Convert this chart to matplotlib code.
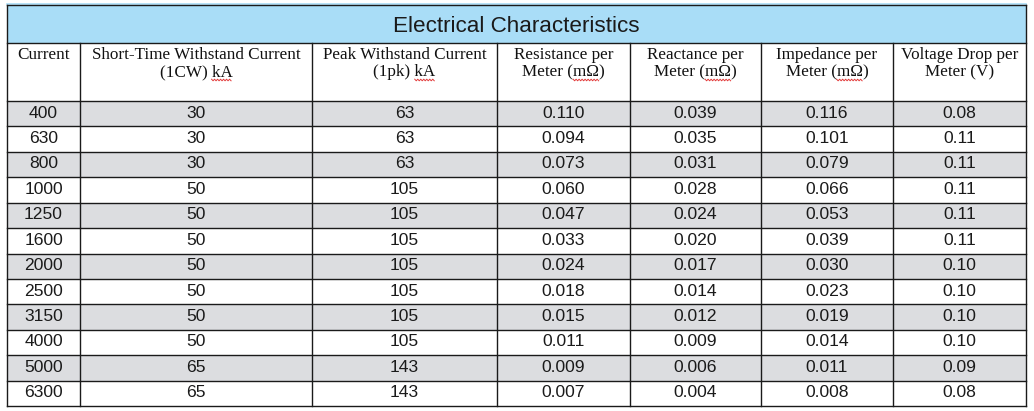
import numpy as np
import matplotlib.pyplot as plt
from matplotlib.patches import Rectangle

# Table content
title = 'Electrical Characteristics'
# Two-line headers: (first line, second line, unit flagged by spell-check)
header_top = ['Current', 'Short-Time Withstand Current', 'Peak Withstand Current',
              'Resistance per', 'Reactance per', 'Impedance per',
              'Voltage Drop per']
header_bottom_line = ['', '(1CW) kA', '(1pk) kA', 'Meter (m\u03a9)',
                      'Meter (m\u03a9)', 'Meter (m\u03a9)', 'Meter (V)']
flagged_units = ['', 'kA', 'kA', 'm\u03a9', 'm\u03a9', 'm\u03a9', '']

current = ['400', '630', '800', '1000', '1250', '1600', '2000', '2500',
           '3150', '4000', '5000', '6300']
short_time = ['30', '30', '30', '50', '50', '50', '50', '50', '50', '50',
              '65', '65']
peak = ['63', '63', '63', '105', '105', '105', '105', '105', '105', '105',
        '143', '143']
resistance = ['0.110', '0.094', '0.073', '0.060', '0.047', '0.033', '0.024',
              '0.018', '0.015', '0.011', '0.009', '0.007']
reactance = ['0.039', '0.035', '0.031', '0.028', '0.024', '0.020', '0.017',
             '0.014', '0.012', '0.009', '0.006', '0.004']
impedance = ['0.116', '0.101', '0.079', '0.066', '0.053', '0.039', '0.030',
             '0.023', '0.019', '0.014', '0.011', '0.008']
voltage_drop = ['0.08', '0.11', '0.11', '0.11', '0.11', '0.11', '0.10',
                '0.10', '0.10', '0.10', '0.09', '0.08']

columns = [current, short_time, peak, resistance, reactance, impedance,
           voltage_drop]

# Layout in pixels
col_edges = [7, 80, 312, 497, 630, 761, 893, 1026]
title_top, title_bottom = 5, 43
header_bottom = 101
table_bottom = 406
row_h = (table_bottom - header_bottom) / len(current)

blue = '#a9ddf7'
gray = '#dcdde0'
edge = '#1a1a1a'
text_col = '#1a1a1a'
head_font = dict(fontsize=12.3, family='Liberation Serif', color='#111111')

fig = plt.figure(figsize=(10.34, 4.11), dpi=100)
ax = fig.add_axes([0, 0, 1, 1])
ax.set_xlim(0, 1034)
ax.set_ylim(411, 0)
ax.axis('off')
renderer = fig.canvas.get_renderer()

left, right = col_edges[0], col_edges[-1]


def text_width(s):
    """Width of a string in data (pixel) units with the header font"""
    t = ax.text(0, 0, s, **head_font)
    w = t.get_window_extent(renderer).width
    t.remove()
    return w


# Title bar
ax.add_patch(Rectangle((left, title_top), right - left, title_bottom - title_top,
                       facecolor=blue, edgecolor='none'))
ax.plot([left, right], [title_top - 1, title_top - 1], color=blue, lw=1.2)
ax.text((left + right) / 2, 32, title, ha='center', va='baseline',
        fontsize=16.2, family='Liberation Sans', color=text_col)

# Shaded rows
for i in range(len(current)):
    if i % 2 == 0:
        y0 = header_bottom + i * row_h
        ax.add_patch(Rectangle((left, y0), right - left, row_h,
                               facecolor=gray, edgecolor='none'))

# Header text, with the red spell-check squiggle under flagged units
for j in range(len(header_top)):
    cx = (col_edges[j] + col_edges[j + 1]) / 2
    ax.text(cx, 59, header_top[j], ha='center', va='baseline', **head_font)
    line2 = header_bottom_line[j]
    if line2:
        ax.text(cx, 76, line2, ha='center', va='baseline', **head_font)
    unit = flagged_units[j]
    if unit:
        full_w = text_width(line2)
        end = line2.index(unit) + len(unit)
        x1 = cx - full_w / 2 + text_width(line2[:end])
        x0 = x1 - text_width(unit)
        xs = np.arange(x0, x1 + 0.01, 1.5)
        ys = 80 + np.where(np.arange(len(xs)) % 2 == 0, -0.8, 0.8)
        ax.plot(xs, ys, color='#e23b3b', lw=0.7)

# Cell values
for j, col in enumerate(columns):
    cx = (col_edges[j] + col_edges[j + 1]) / 2
    for i, v in enumerate(col):
        base = header_bottom + i * row_h + 0.655 * row_h
        ax.text(cx, base, v, ha='center', va='baseline', fontsize=12.6,
                family='Liberation Sans', color=text_col)

# Grid lines
lw = 1.0
ax.plot([left, right], [title_top, title_top], color=edge, lw=lw)
ax.plot([left, right], [title_bottom, title_bottom], color=edge, lw=lw)
for i in range(len(current) + 1):
    y = header_bottom + i * row_h
    ax.plot([left, right], [y, y], color=edge, lw=lw)
ax.plot([left, left], [title_top, table_bottom], color=edge, lw=lw)
ax.plot([right, right], [title_top, table_bottom], color=edge, lw=lw)
for x in col_edges[1:-1]:
    ax.plot([x, x], [title_bottom, table_bottom], color=edge, lw=lw)

fig.savefig('out.png', dpi=100)
